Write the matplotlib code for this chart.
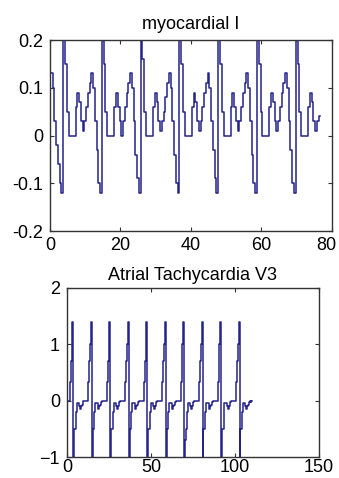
import matplotlib
matplotlib.use("Agg")
import matplotlib.pyplot as plt
import matplotlib.transforms as mtransforms
import numpy as np

plt.rcParams['font.family'] = ['Liberation Sans', 'DejaVu Sans']

# myocardial I, one sample every 0.5 units
myo_start = 0.0
myo_step = 0.5
myo_values = [
    0.13, 0.13, 0.10, 0.03, -0.02, -0.06, -0.10, -0.12,
    0.20, 0.15, 0.05, 0.00, 0.00, 0.00, 0.00, 0.06, 0.09, 0.07, 0.03, 0.01,
    0.03, 0.06, 0.09, 0.11, 0.13, 0.10, 0.03, -0.03, -0.10, -0.12,
    0.20, 0.15, 0.05, 0.00, 0.00, 0.00, 0.00, 0.06, 0.09, 0.06, 0.03, 0.00,
    0.03, 0.06, 0.09, 0.11, 0.13, 0.10, 0.03, -0.04, -0.09, -0.12,
    0.20, 0.16, 0.05, 0.00, 0.00, 0.00, 0.00, 0.06, 0.09, 0.07, 0.03, 0.01,
    0.03, 0.05, 0.08, 0.11, 0.13, 0.10, 0.03, -0.04, -0.10, -0.12,
    0.20, 0.15, 0.05, 0.00, 0.00, 0.00, 0.00, 0.06, 0.09, 0.07, 0.03, 0.01,
    0.03, 0.06, 0.09, 0.11, 0.13, 0.10, 0.03, -0.03, -0.09, -0.12,
    0.20, 0.15, 0.05, 0.00, 0.00, 0.00, 0.00, 0.06, 0.09, 0.06, 0.03, 0.01,
    0.03, 0.06, 0.09, 0.11, 0.13, 0.10, 0.03, -0.04, -0.10, -0.12,
    0.20, 0.15, 0.05, 0.00, 0.00, 0.00, 0.00, 0.06, 0.09, 0.07, 0.03, 0.01,
    0.03, 0.06, 0.09, 0.11, 0.13, 0.10, 0.03, -0.03, -0.10, -0.12,
    0.20, 0.15, 0.05, 0.00, 0.00, 0.00, 0.00, 0.06, 0.09, 0.07, 0.03, 0.01,
    0.03, 0.04,
]

# Atrial Tachycardia V3, one sample every 0.5 units
at_start = 0.0
at_step = 0.5
at_values = [
    0.00, 0.00, 0.00, 0.00, 0.33, 0.70, 1.00,
    1.40, -1.00, -0.50, -0.50, -0.20, -0.05, -0.05, -0.05, -0.10, -0.15, -0.10,
    -0.07, -0.03, 0.00, 0.00, 0.00, 0.00, 0.00, 0.00, 0.33, 0.70, 1.00,
    1.40, -1.00, -0.70, -0.50, -0.20, -0.05, -0.05, -0.05, -0.10, -0.15, -0.10,
    -0.07, -0.03, 0.00, 0.00, 0.00, 0.00, 0.00, 0.00, 0.33, 0.70, 1.00,
    1.40, -1.00, -0.50, -0.50, -0.20, -0.05, -0.05, -0.05, -0.10, -0.15, -0.10,
    -0.07, -0.03, 0.00, 0.00, 0.00, 0.00, 0.00, 0.00, 0.33, 0.70, 1.00,
    1.40, -1.00, -0.50, -0.50, -0.20, -0.05, -0.05, -0.05, -0.10, -0.15, -0.10,
    -0.07, -0.03, 0.00, 0.00, 0.00, 0.00, 0.00, 0.00, 0.33, 0.70, 1.00,
    1.40, -1.00, -0.50, -0.50, -0.20, -0.05, -0.05, -0.05, -0.10, -0.15, -0.10,
    -0.07, -0.03, 0.00, 0.00, 0.00, 0.00, 0.00, 0.00, 0.33, 0.70, 1.00,
    1.40, -1.00, -0.50, -0.50, -0.20, -0.05, -0.05, -0.05, -0.10, -0.15, -0.10,
    -0.07, -0.03, 0.00, 0.00, 0.00, 0.00, 0.00, 0.00, 0.33, 0.70, 1.00,
    1.40, -1.00, -0.70, -0.50, -0.20, -0.05, -0.05, -0.05, -0.10, -0.15, -0.10,
    -0.07, -0.03, 0.00, 0.00, 0.00, 0.00, 0.00, 0.00, 0.33, 0.70, 1.00,
    1.40, -1.00, -0.50, -0.50, -0.20, -0.05, -0.05, -0.05, -0.10, -0.15, -0.10,
    -0.07, -0.03, 0.00, 0.00, 0.00, 0.00, 0.00, 0.00, 0.33, 0.70, 1.00,
    1.40, -1.00, -0.50, -0.50, -0.20, -0.05, -0.05, -0.05, -0.10, -0.15, -0.10,
    -0.07, -0.03, 0.00, 0.00, 0.00, 0.00, 0.00, 0.00, 0.33, 0.70, 1.00,
    1.40, -1.00, -0.50, -0.50, -0.20, -0.05, -0.05, -0.05, -0.10, -0.15, -0.10,
    -0.07, -0.03, 0.00, -0.02, -0.01,
]

myo_xticks = [0, 20, 40, 60, 80]
myo_yticks = [-0.2, -0.1, 0, 0.1, 0.2]
at_xticks = [0, 50, 100, 150]
at_yticks = [-1, 0, 1, 2]

line_color = '#23238a'


def style_axes(ax, xpad):
    ax.tick_params(direction='in', length=3, top=True, right=True,
                   labelsize=13, pad=5, color='#333333')
    ax.tick_params(axis='x', pad=xpad)
    for spine in ax.spines.values():
        spine.set_color('#333333')
        spine.set_linewidth(1.0)


fig = plt.figure(figsize=(3.39, 4.78), dpi=100)

ax1 = fig.add_axes([0.1475, 0.5167, 0.8315, 0.3996])
x1 = myo_start + myo_step * np.arange(len(myo_values))
ax1.plot(x1, myo_values, color=line_color, lw=1.1, drawstyle='steps-mid')
ax1.set_xlim(0, 80)
ax1.set_ylim(-0.2, 0.2)
ax1.set_xticks(myo_xticks)
ax1.set_yticks(myo_yticks)
ax1.set_yticklabels(['-0.2', '-0.1', '0', '0.1', '0.2'])
ax1.set_title('myocardial I', fontsize=13, pad=8)
style_axes(ax1, 4)

# the last x label sits against the figure edge, nudge it left a little
last = ax1.get_xticklabels()[-1]
last.set_transform(last.get_transform() +
                   mtransforms.ScaledTranslation(-4 / 72, 0, fig.dpi_scale_trans))

ax2 = fig.add_axes([0.1976, 0.0439, 0.7434, 0.3536])
x2 = at_start + at_step * np.arange(len(at_values))
ax2.plot(x2, at_values, color=line_color, lw=1.1, drawstyle='steps-mid')
ax2.set_xlim(0, 150)
ax2.set_ylim(-1, 2)
ax2.set_xticks(at_xticks)
ax2.set_yticks(at_yticks)
ax2.set_title('Atrial Tachycardia V3', fontsize=13, pad=6)
style_axes(ax2, 1.5)

fig.savefig('out.png', dpi=100)
